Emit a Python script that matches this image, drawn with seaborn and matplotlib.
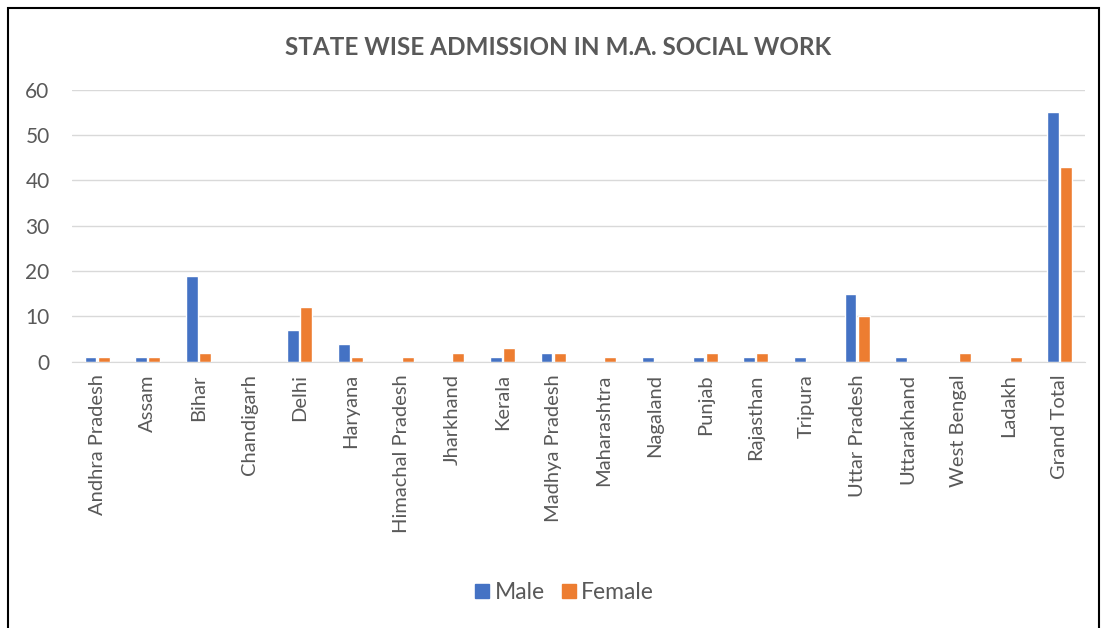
import pandas as pd
import matplotlib
matplotlib.use("Agg")
import matplotlib.pyplot as plt
import seaborn as sns
from matplotlib.patches import Rectangle
from matplotlib.lines import Line2D

states = ["Andhra Pradesh", "Assam", "Bihar", "Chandigarh", "Delhi", "Haryana",
          "Himachal Pradesh", "Jharkhand", "Kerala", "Madhya Pradesh", "Maharashtra",
          "Nagaland", "Punjab", "Rajasthan", "Tripura", "Uttar Pradesh",
          "Uttarakhand", "West Bengal", "Ladakh", "Grand Total"]
male = [1, 1, 19, 0, 7, 4, 0, 0, 1, 2, 0, 1, 1, 1, 1, 15, 1, 0, 0, 55]
female = [1, 1, 2, 0, 12, 1, 1, 2, 3, 2, 1, 0, 2, 2, 0, 10, 0, 2, 1, 43]
colors = {"Male": "#4472C4", "Female": "#ED7D31"}

df = pd.DataFrame({"State": states * 2,
                   "Count": male + female,
                   "Gender": ["Male"] * len(states) + ["Female"] * len(states)})

sns.set_style("white")
plt.rcParams["font.family"] = ["Lato", "DejaVu Sans"]
txt = "#595959"

fig = plt.figure(figsize=(11.05, 6.28), dpi=100)
ax = fig.add_axes([0.065, 0.424, 0.917, 0.433])

sns.barplot(data=df, x="State", y="Count", hue="Gender",
            palette=colors, saturation=1,
            width=0.52, gap=0.1, ax=ax, legend=False)

ax.set_ylim(0, 60)
ax.set_yticks(range(0, 61, 10))
ax.set_xlim(-0.5, len(states) - 0.5)
ax.yaxis.grid(True, color="#D9D9D9", linewidth=1)
ax.set_axisbelow(True)
ax.set_xlabel("")
ax.set_ylabel("")
for s in ["top", "right", "left"]:
    ax.spines[s].set_visible(False)
ax.spines["bottom"].set_color("#D9D9D9")
ax.tick_params(axis="x", rotation=90, labelsize=14.5, colors=txt, length=0, pad=9)
ax.tick_params(axis="y", labelsize=15, colors=txt, length=0, pad=16)

# square legend markers like the Excel original
handles = [Line2D([], [], marker="s", linestyle="", markersize=9.5,
                  markerfacecolor=c, markeredgecolor=c) for c in colors.values()]
fig.legend(handles, list(colors.keys()), loc="center", bbox_to_anchor=(0.511, 0.056),
           ncol=2, frameon=False, fontsize=16.5, labelcolor=txt, handlelength=0.6,
           handletextpad=0.25, columnspacing=0.75)

fig.text(0.505, 0.925, "STATE WISE ADMISSION IN M.A. SOCIAL WORK",
         ha="center", va="center", fontsize=17.5, fontweight="bold", color=txt)

fig.patches.append(Rectangle((0.007, -0.05), 0.988, 1.037, transform=fig.transFigure,
                             fill=False, edgecolor="black", linewidth=1.5))

fig.savefig("out.png", dpi=100)
